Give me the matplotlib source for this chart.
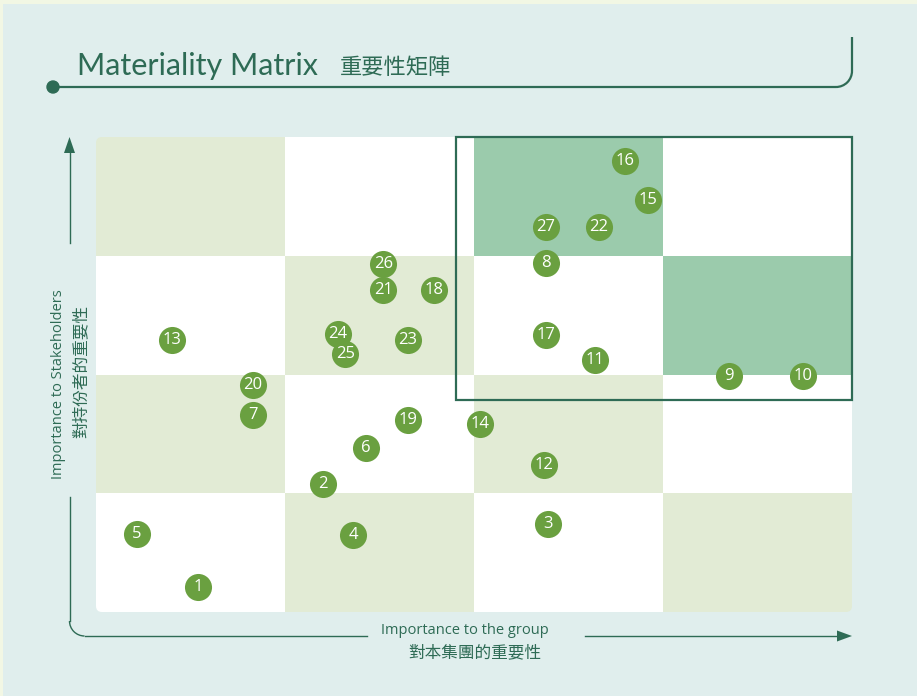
import matplotlib.pyplot as plt
import numpy as np
from matplotlib import font_manager
from matplotlib.patches import Rectangle, FancyBboxPatch, Circle, Polygon, Arc

# 議題編號及位置 (x: 對本集團的重要性, y: 對持份者的重要性), 0-4 格
ids = [1, 2, 3, 4, 5, 6, 7, 8, 9, 10, 11, 12, 13, 14, 15, 16, 17, 18, 19, 20,
       21, 22, 23, 24, 25, 26, 27]
x_group = [0.54, 1.20, 2.39, 1.36, 0.215, 1.43, 0.83, 2.38, 3.35, 3.74, 2.64, 2.37, 0.40, 2.03,
           2.92, 2.80, 2.38, 1.79, 1.65, 0.83, 1.52, 2.66, 1.65, 1.28, 1.32, 1.52, 2.38]
y_stake = [0.21, 1.08, 0.74, 0.65, 0.66, 1.38, 1.66, 2.94, 1.99, 1.99, 2.12, 1.24, 2.29, 1.58,
           3.47, 3.80, 2.33, 2.71, 1.62, 1.91, 2.71, 3.24, 2.29, 2.34, 2.17, 2.93, 3.24]

# 格子顏色 (由上至下)
cell_grid = [["L", "W", "M", "W"],
             ["W", "L", "W", "M"],
             ["L", "W", "L", "W"],
             ["W", "L", "W", "L"]]
cell_colors = {"L": "#e2ebd5", "W": "#ffffff", "M": "#9bcbac"}

dark = "#2e6b55"
dot_green = "#6aa040"
bg = "#e0eeed"

# 標題用較窄字體
condensed = [f for f in font_manager.fontManager.ttflist
             if f.name == "Noto Sans" and "ondensed" in str(f.stretch) and f.weight in (400, "normal", "regular")]
if condensed:
    title_font = dict(family=["Noto Sans"], stretch="condensed")
else:
    title_font = dict(family=["Lato"])

W, H = 917, 696
fig = plt.figure(figsize=(W / 100, H / 100), dpi=100)
fig.patch.set_facecolor("#f2f7e4")

# 裝飾層 (像素座標)
deco = fig.add_axes([0, 0, 1, 1], zorder=0)
deco.set_xlim(0, W)
deco.set_ylim(H, 0)
deco.axis("off")
deco.add_patch(Rectangle((3, 4), W, H, color=bg, lw=0))

# 標題
deco.text(77, 75, "Materiality Matrix", fontsize=22, color=dark,
          va="baseline", ha="left", **title_font)
deco.text(340, 74, "重要性矩陣", fontsize=16, color=dark,
          family=["Noto Sans CJK TC"], va="baseline", ha="left")

# 標題下線 + 右上圓角
r = 16
deco.plot([53, 852 - r], [87, 87], color=dark, lw=1.6, solid_capstyle="butt")
deco.add_patch(Arc((852 - r, 87 - r), 2 * r, 2 * r, theta1=0, theta2=90, color=dark, lw=1.6))
deco.plot([852, 852], [87 - r, 37], color=dark, lw=1.6, solid_capstyle="butt")
deco.add_patch(Circle((53, 87), 6, color=dark))

# y 軸箭頭
deco.plot([69.5, 69.5], [243, 150], color=dark, lw=1.0)
deco.add_patch(Polygon([[69.5, 137], [64, 153], [75, 153]], closed=True, color=dark, lw=0))

# 左下角 L 形線
r2 = 15
deco.plot([69.5, 69.5], [497, 636 - r2], color=dark, lw=1.0)
deco.add_patch(Arc((69.5 + r2, 636 - r2), 2 * r2, 2 * r2, theta1=90, theta2=180, color=dark, lw=1.0))
deco.plot([69.5 + r2, 367], [636, 636], color=dark, lw=1.0)

# x 軸箭頭
deco.plot([585, 840], [636, 636], color=dark, lw=1.0)
deco.add_patch(Polygon([[852, 636], [837, 630.5], [837, 641.5]], closed=True, color=dark, lw=0))

# 軸標題
deco.text(465, 630, "Importance to the group", fontsize=10.5, color=dark,
          family=["Open Sans"], ha="center", va="center")
deco.text(475, 653, "對本集團的重要性", fontsize=12, color=dark,
          family=["Noto Sans CJK TC"], ha="center", va="center")
deco.text(59, 384, "Importance to Stakeholders", fontsize=10.5, color=dark,
          family=["Open Sans"], ha="center", va="center", rotation=90)
deco.text(81, 371, "對持份者的重要性", fontsize=12, color=dark,
          family=["Noto Sans CJK TC"], ha="center", va="center", rotation=90)

# 主矩陣
left, right, top, bottom = 96, 852, 137, 612
ax = fig.add_axes([left / W, (H - bottom) / H, (right - left) / W, (bottom - top) / H], zorder=1)
ax.set_xlim(0, 4)
ax.set_ylim(0, 4)
ax.axis("off")
ax.patch.set_alpha(0)

px_x = (right - left) / 4
px_y = (bottom - top) / 4
rad = 6
clip = FancyBboxPatch((0, 0), 4, 4, boxstyle=f"round,pad=0,rounding_size={rad / px_x}",
                      mutation_aspect=px_x / px_y, fc="none", ec="none")
ax.add_patch(clip)
for i, row in enumerate(cell_grid):
    for j, c in enumerate(row):
        rect = Rectangle((j, 3 - i), 1, 1, color=cell_colors[c], lw=0)
        ax.add_patch(rect)
        rect.set_clip_path(clip)

# 高重要性框
ax.add_patch(Rectangle(((456 - left) / px_x, (bottom - 400) / px_y),
                       4 - (456 - left) / px_x, 4 - (bottom - 400) / px_y,
                       fill=False, ec=dark, lw=1.6, clip_on=False, zorder=3))

ax.scatter(x_group, y_stake, s=380, color=dot_green, lw=0, zorder=4, clip_on=False)
for n, xv, yv in zip(ids, x_group, y_stake):
    ax.text(xv, yv, str(n), color="white", fontsize=12, family=["Open Sans"],
            ha="center", va="center", zorder=5)

fig.savefig("out.png", dpi=100, facecolor=fig.get_facecolor())
